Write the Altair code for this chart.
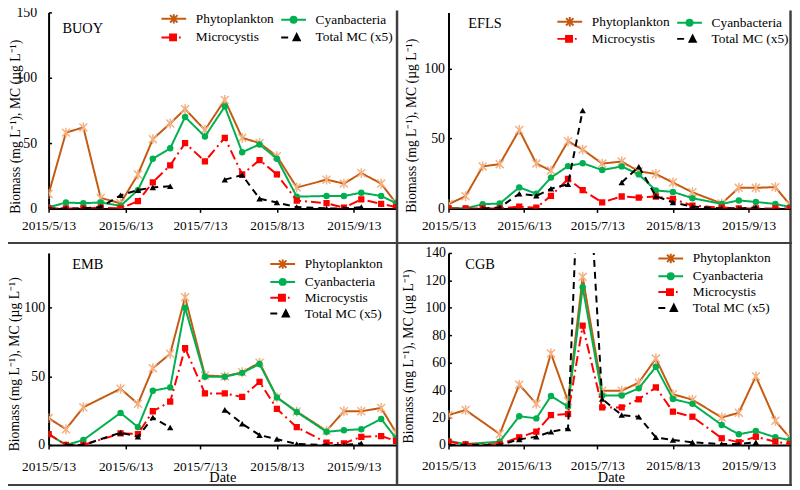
import altair as alt
import pandas as pd

FONT = "Liberation Serif"

# ---------------- data ----------------
DATES = ["2015-05-13", "2015-05-20", "2015-05-27", "2015-06-03", "2015-06-11",
         "2015-06-18", "2015-06-24", "2015-07-01", "2015-07-07", "2015-07-15",
         "2015-07-23", "2015-07-30", "2015-08-06", "2015-08-13", "2015-08-21",
         "2015-09-02", "2015-09-09", "2015-09-16", "2015-09-24", "2015-09-30"]

SERIES = ["Phytoplankton", "Cyanbacteria", "Microcystis", "Total MC (x5)"]
TICK_DATES = [(5, 13), (6, 13), (7, 13), (8, 13), (9, 13)]

BUOY_DATES = DATES
BUOY_PHYTO = [11, 58, 62, 8, 4, 26, 53, 65, 76, 60, 83, 54, 50, 40, 16, 22, 19, 27, 19, 4]
BUOY_CYAN = [0.8, 4.5, 4, 4.5, 2, 14, 38, 46, 70, 55, 78, 43, 49, 38, 9, 9.5, 9.5, 12, 9.5, 4]
BUOY_MICRO = [0, 0, 0, 0.5, 0, 5.5, 20, 33, 50, 36, 54, 26, 37, 26, 6, 4, 0.5, 7, 3.5, 1]
BUOY_MC = [0, 0, 0, 1, 10, 14, 16, 17, None, None, 22, 25.5, 7.5, 4.5, 1, 0, 0, 1, None, None]

EFLS_DATES = DATES
EFLS_PHYTO = [3, 8.7, 30, 31.6, 56, 32, 27, 48, 42, 32, 33.5, 26.5, 24.6, 18.5, 11.5, 3.5, 14.7, 14.7, 15.2, 2.5]
EFLS_CYAN = [0.5, 0, 3, 3.5, 15, 10.5, 22, 30.2, 32.3, 27.4, 30, 24.3, 12.8, 11.8, 7.3, 3.2, 5.7, 4.6, 3.2, 1]
EFLS_MICRO = [0, 0, 0, 0, 1.2, 0.5, 9, 21, 13, 4.3, 8.5, 7.7, 8.5, 6.8, 2, 0.5, 0, 0, 0, 0]
EFLS_MC = [None, None, 0, 0.7, 10.5, 9, 14, 17.3, 70, None, 18.5, 29.8, 8.8, 4.2, 1.3, 0, 0, 0.7, None, None]

EMB_DATES = DATES[:3] + DATES[4:]
EMB_PHYTO = [19.6, 11.5, 27.5, 41, 30, 56, 66.5, 107.7, 50.7, 50, 53, 60, 34.7, 24.4, 10.3, 24.6, 24.6, 27, 9]
EMB_CYAN = [8, 0, 3.6, 23.4, 13, 39.5, 42, 100, 49.8, 49.8, 52.6, 59, 34.7, 24, 9.6, 10.8, 11.5, 19, 5]
EMB_MICRO = [8, 0, 0, 8.4, 8, 24.6, 31.6, 70.6, 37.6, 37.6, 35, 46, 26.3, 13, 1.7, 1.2, 6, 6.5, 3]
EMB_MC = [None, 0, 0, 9, 6, 20, 12.7, None, None, 25.6, 15.5, 7.2, 4.3, 0.7, 0, 0, 1.2, None, None]

CGB_DATES = DATES[:2] + DATES[3:]
CGB_PHYTO = [21.8, 25.5, 8, 44, 30, 66.7, 32, 122.6, 39.6, 39.6, 45.4, 63, 37, 33, 20, 23.5, 50, 17.7, 5]
CGB_CYAN = [3, 0.7, 2.4, 21, 19.4, 35.7, 28, 115, 36, 36, 41.3, 57, 33.5, 30, 14.6, 7.8, 10.2, 5.6, 3.6]
CGB_MICRO = [2.4, 0.5, 0.5, 5.6, 9.7, 21.8, 22.6, 87, 27.4, 27.4, 33.3, 42, 24.3, 20.6, 4.9, 2, 6, 2.4, 0.7]
CGB_MC = [0, 0, 0, 4.1, 6, 9.7, 12, 280, 33.5, 21.8, 20.6, 5.6, 3.6, 2, 0.7, 0.7, 2, None, None]

# ---------------- styles ----------------
LINE_COLORS = ["#C55A11", "#00B050", "#FF0000", "#000000"]
LINE_DASHES = [[1, 0], [1, 0], [10, 4, 2, 4], [7, 5]]
ASTERISK = "M-1,-1L1,1M-1,1L1,-1M0,-1.25V1.25"
MARKERS = [
    dict(shape=ASTERISK, filled=False, color="#F4B183", size=64, strokeWidth=1.5),
    dict(shape="circle", filled=True, color="#00B050", size=42),
    dict(shape="square", filled=True, color="#FF0000", size=40),
    dict(shape="triangle-up", filled=True, color="#000000", size=42),
]
# legend glyphs (line sample + marker), unit = 5 px (symbolSize 100)
LEG_PATHS = [
    "M-2.5,0H2.5M-0.75,-0.75L0.75,0.75M-0.75,0.75L0.75,-0.75M0,-0.95V0.95",
    "M-2.5,0H2.5M0.6,0A0.6,0.6,0,1,1,-0.6,0A0.6,0.6,0,1,1,0.6,0Z",
    "M-2.5,0H-0.75M-0.75,-0.6H0.45V0.6H-0.75ZM1.05,0H1.4",
    "M-2.5,0H-1.1M0,0.6H1.25L0.625,-0.65Z",
]
LEG_FILL = ["transparent", "#00B050", "#FF0000", "#000000"]
LEG_STROKE = ["#C55A11", "#00B050", "#FF0000", "#000000"]

Y_TITLE = "Biomass (mg L\u207b\u00b9), MC (\u00b5g L\u207b\u00b9)"
X_START = alt.DateTime(year=2015, month=5, date=13, utc=True)
X_END = alt.DateTime(year=2015, month=9, date=30, utc=True)
X_TICKS = [alt.DateTime(year=2015, month=m, date=d, utc=True) for m, d in TICK_DATES]

FRAME = "#404040"


def long_frame(dates, columns):
    rows = []
    for name, vals in zip(SERIES, columns):
        seg = 0
        for d, v in zip(dates, vals):
            if v is None:
                seg += 1
                continue
            rows.append({"date": d, "value": v, "series": name, "seg": seg})
    return pd.DataFrame(rows)


def panel(station, dates, columns, p, frame=False):
    df = long_frame(dates, columns)
    base = alt.Chart(df)
    xaxis = alt.Axis(values=X_TICKS, labelExpr="utcFormat(datum.value, '%Y/%-m/%-d')",
                     labelFont=FONT, labelFontSize=13.5, labelColor="black",
                     labelPadding=p["xlp"], labelFlush=False, labelOverlap=False,
                     tickSize=4, tickColor="black", tickWidth=1.5,
                     domainColor="black", domainWidth=2, grid=False,
                     titleFont=FONT, titleFontSize=14.5, titleFontWeight="normal",
                     titleColor="black", titleX=p.get("xtx", p["w"] / 2), titleY=33,
                     titleBaseline="middle", titleAlign="center")
    yaxis = alt.Axis(values=p["yticks"], labelFont=FONT, labelFontSize=14,
                     labelColor="black", labelPadding=p["ylp"], labelFlush=False,
                     labelOverlap=False, ticks=False, domainColor="black",
                     domainWidth=2, grid=True, gridDash=[3, 3000], gridColor="black",
                     gridWidth=1.5, titleFont=FONT, titleFontSize=13.8,
                     titleFontWeight="normal", titleColor="black", titleAngle=270,
                     titleX=p["ytx"], titleY=p["yty"], titleAlign="center",
                     titleBaseline="middle")
    xenc = alt.X("date:T", scale=alt.Scale(type="utc", domain=[X_START, X_END]),
                 axis=xaxis, title=p["xtitle"])
    yenc = alt.Y("value:Q", scale=alt.Scale(domain=[0, p["ymax"]], nice=False),
                 axis=yaxis, title=Y_TITLE)
    layers = []
    for name, lc, dash, mk in zip(SERIES, LINE_COLORS, LINE_DASHES, MARKERS):
        sub = base.transform_filter(alt.datum.series == name)
        layers.append(sub.mark_line(color=lc, strokeWidth=2, strokeDash=dash, clip=True)
                      .encode(x=xenc, y=yenc, detail="seg:N"))
        layers.append(sub.mark_point(opacity=1, clip=True, **mk).encode(x=xenc, y=yenc))
    leg = alt.Legend(title=None, orient="none", legendX=p["lx"], legendY=p["ly"],
                     columns=p["lcols"], direction=p["ldir"], columnPadding=3,
                     rowPadding=p["lrp"],
                     symbolSize=100, symbolOffset=5.75, symbolStrokeWidth=2,
                     symbolOpacity=1, labelFont=FONT, labelFontSize=13.5,
                     labelColor="black", labelOffset=15.5, padding=0, labelLimit=0)
    layers.append(
        base.transform_filter("false").mark_point(opacity=1, filled=True).encode(
            shape=alt.Shape("series:N", scale=alt.Scale(domain=SERIES, range=LEG_PATHS), legend=leg),
            fill=alt.Fill("series:N", scale=alt.Scale(domain=SERIES, range=LEG_FILL), legend=leg),
            stroke=alt.Stroke("series:N", scale=alt.Scale(domain=SERIES, range=LEG_STROKE), legend=leg),
        )
    )
    lab = pd.DataFrame({"station": [station]})
    layers.append(alt.Chart(lab).mark_text(font=FONT, fontSize=14.5, align="left",
                                           baseline="middle", color="black")
                  .encode(x=alt.value(p["sx"]), y=alt.value(p["sy"]), text="station:N"))
    if frame:
        fr = alt.Chart(pd.DataFrame({"k": [0]}))
        layers.append(fr.mark_rule(color=FRAME, strokeWidth=2).encode(
            x=alt.value(-41), x2=alt.value(751), y=alt.value(233)))
        layers.append(fr.mark_rule(color=FRAME, strokeWidth=2).encode(
            x=alt.value(-41), x2=alt.value(751), y=alt.value(477.5)))
        layers.append(fr.mark_rule(color=FRAME, strokeWidth=2.5).encode(
            y=alt.value(-2), y2=alt.value(478), x=alt.value(352)))
        layers.append(fr.mark_rule(color=FRAME, strokeWidth=2.5).encode(
            y=alt.value(-2), y2=alt.value(478), x=alt.value(749.5)))
    return alt.layer(*layers).properties(width=p["w"], height=p["h"])


W1, W2, H1, H2 = 351, 345, 198, 194

tl = panel("BUOY", BUOY_DATES, [BUOY_PHYTO, BUOY_CYAN, BUOY_MICRO, BUOY_MC],
           dict(w=W1, h=H1, ymax=150, yticks=[0, 50, 100, 150], ylp=12, ytx=-33, yty=115,
                xlp=6, xtitle=None, lx=114, ly=-0.5, lcols=2, ldir="horizontal", lrp=2,
                sx=14, sy=17),
           frame=True)
tr = panel("EFLS", EFLS_DATES, [EFLS_PHYTO, EFLS_CYAN, EFLS_MICRO, EFLS_MC],
           dict(w=W2, h=H1, ymax=140, yticks=[0, 50, 100], ylp=4, ytx=-37, yty=114,
                xlp=6, xtitle=None, lx=110, ly=2.5, lcols=2, ldir="horizontal", lrp=0.5,
                sx=20, sy=12))
bl = panel("EMB", EMB_DATES, [EMB_PHYTO, EMB_CYAN, EMB_MICRO, EMB_MC],
           dict(w=W1, h=H2, ymax=140, yticks=[0, 50, 100], ylp=4, ytx=-34, yty=112,
                xlp=11, xtitle="Date", lx=224, ly=4.5, lcols=1, ldir="vertical", lrp=1.0,
                sx=24, sy=12))
br = panel("CGB", CGB_DATES, [CGB_PHYTO, CGB_CYAN, CGB_MICRO, CGB_MC],
           dict(w=W2, h=H2, ymax=140, yticks=[0, 20, 40, 60, 80, 100, 120, 140], ylp=3,
                ytx=-40, yty=104, xlp=10, xtitle="Date", xtx=164, lx=212, ly=-1.2,
                lcols=1, ldir="vertical", lrp=1.0, sx=17, sy=12))

chart = alt.concat(tl, tr, bl, br, columns=2, spacing={"row": 45, "column": 53},
                   bounds="flush").resolve_scale(
    x="independent", y="independent", shape="independent", fill="independent",
    stroke="independent").resolve_legend(
    shape="independent", fill="independent", stroke="independent").properties(
    autosize=alt.AutoSizeParams(type="none"),
    padding={"left": 41, "top": 2, "right": 751, "bottom": 478},
    background="white",
).configure_view(stroke=None)

chart.save("out.html", embed_options={"renderer": "svg", "actions": False})
